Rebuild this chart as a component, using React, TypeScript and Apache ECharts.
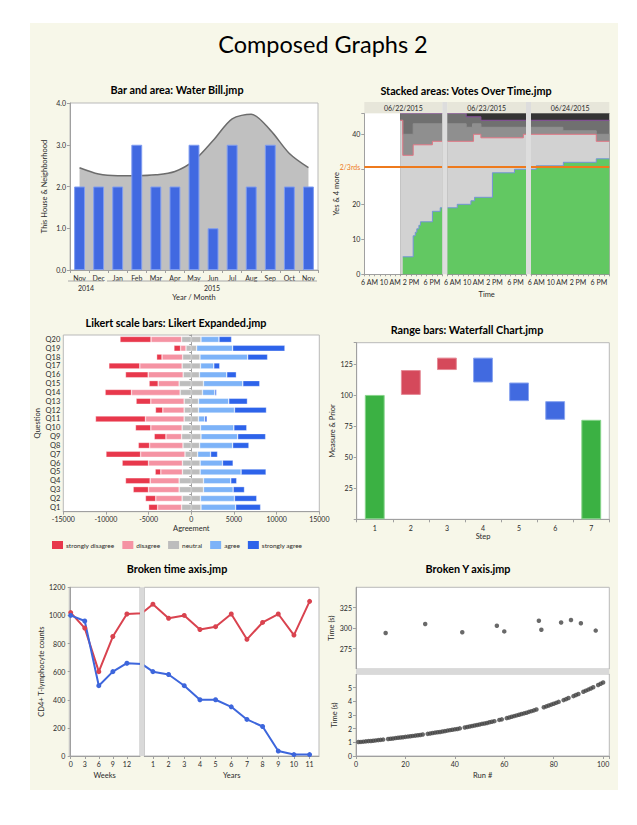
import React, { useEffect, useRef } from 'react';
import * as echarts from 'echarts';

const FONT = 'Lato, "Liberation Sans", sans-serif';
const TXT = '#2a2a2a';
const AXIS = '#a0a0a0';
const BORDER = '#b9b9b9';

// ---------- Bar and area: Water Bill.jmp ----------
const billPeriods = ['2014-11', '2014-12', '2015-01', '2015-02', '2015-03', '2015-04', '2015-05', '2015-06', '2015-07', '2015-08', '2015-09', '2015-10', '2015-11'];
const monthNames = ['Jan', 'Feb', 'Mar', 'Apr', 'May', 'Jun', 'Jul', 'Aug', 'Sep', 'Oct', 'Nov', 'Dec'];
const houseBill = [2, 2, 2, 3, 2, 2, 3, 1, 3, 2, 3, 2, 2];
const neighborhoodBill = [2.45, 2.3, 2.26, 2.26, 2.28, 2.36, 2.62, 3.1, 3.62, 3.73, 3.35, 2.79, 2.45];
const billYearLabels = ['2014', '2015'];

// ---------- Stacked areas: Votes Over Time.jmp ----------
const dayLabels = ['06/22/2015', '06/23/2015', '06/24/2015'];
const hourTicks = [6, 10, 14, 18];
const hourTickLabels = ['6 AM', '10 AM', '2 PM', '6 PM'];
const voteTotal = 46;
const day1Total = [[11.9, 46], [20, 46]];
const day1Layer4 = [[11.9, 46], [20, 46]];
const day1Layer3 = [[11.9, 44], [12.4, 40], [14.4, 43], [20, 43]];
const day1Others = [[11.9, 44], [12.4, 34], [14.4, 37], [18.1, 38], [20, 38]];
const day1Yes = [[12.4, 5], [14.4, 11], [14.8, 12], [15.1, 13], [15.5, 14], [15.8, 15], [18.1, 18], [19.6, 19], [20, 19]];
const day2Total = [[5, 46], [20, 46]];
const day2Layer4 = [[5, 46], [8.6, 45], [11.4, 44], [20, 44]];
const day2Layer3 = [[5, 43], [8.6, 42], [9.8, 43], [11.4, 42], [20, 42]];
const day2Others = [[5, 38], [10, 40], [11.4, 39], [19.5, 40], [20, 40]];
const day2Yes = [[5, 19], [6.9, 20], [9.5, 21], [10.2, 22], [13.6, 29], [17.8, 30], [20, 30]];
const day3Total = [[5, 46], [20, 46]];
const day3Layer4 = [[5, 44], [20, 44]];
const day3Layer3 = [[5, 42], [11.1, 41], [17.5, 40], [20, 40]];
const day3Others = [[5, 40], [17.5, 38], [20, 38]];
const day3Yes = [[5, 30], [6, 31], [11.2, 32], [17.5, 33], [20, 33]];

// ---------- Likert scale bars ----------
const questions = ['Q1', 'Q2', 'Q3', 'Q4', 'Q5', 'Q6', 'Q7', 'Q8', 'Q9', 'Q10', 'Q11', 'Q12', 'Q13', 'Q14', 'Q15', 'Q16', 'Q17', 'Q18', 'Q19', 'Q20'];
const likertLevels = ['strongly disagree', 'disagree', 'neutral', 'agree', 'strongly agree'];
const stronglyDisagree = [1060, 1210, 1800, 2890, 660, 3090, 4060, 1330, 1370, 1800, 5860, 860, 1720, 3090, 1060, 2660, 3630, 630, 780, 3630];
const disagree = [2810, 3090, 3590, 3400, 2540, 3980, 5200, 3910, 1840, 3670, 4530, 2500, 3910, 5700, 2460, 4100, 4960, 2420, 630, 3590];
const neutral = [2270, 2150, 2850, 2850, 2070, 2070, 1480, 1950, 2270, 2150, 1680, 1680, 1680, 2620, 2850, 1910, 2150, 2030, 1250, 2270];
const agree = [4060, 3980, 3480, 3200, 4800, 2620, 1520, 3870, 4300, 3910, 740, 4220, 3550, 1450, 4610, 3200, 1560, 5590, 4220, 2110];
const stronglyAgree = [2930, 2620, 1330, 700, 2930, 1250, 820, 1910, 3280, 1520, 270, 3750, 2190, 200, 1990, 1130, 700, 2340, 6130, 1480];

// ---------- Range bars: Waterfall Chart.jmp ----------
const steps = ['1', '2', '3', '4', '5', '6', '7'];
const stepPrior = [0, 100, 120, 130, 110, 95, 0];
const stepMeasure = [100, 120, 130, 110, 95, 80, 80];

// ---------- Broken time axis.jmp ----------
const weeks = [0, 3, 6, 9, 12];
const weeksGroupA = [1020, 910, 600, 850, 1010];
const weeksGroupB = [1000, 960, 500, 600, 660];
const years = [1, 2, 3, 4, 5, 6, 7, 8, 9, 10, 11];
const yearsGroupA = [1080, 980, 1000, 900, 920, 1010, 830, 950, 1010, 860, 1100];
const yearsGroupB = [600, 580, 500, 400, 400, 350, 260, 210, 35, 10, 10];

// ---------- Broken Y axis.jmp ----------
const runTimes = [
  1.02, 1.03, 1.05, 1.07, 1.09, 1.1, 1.12, 1.14, 1.16, 1.18,
  1.2, 294, 1.24, 1.26, 1.28, 1.31, 1.33, 1.35, 1.37, 1.4,
  1.42, 1.44, 1.47, 1.49, 1.52, 1.54, 1.57, 305, 1.62, 1.65,
  1.68, 1.71, 1.74, 1.76, 1.79, 1.82, 1.86, 1.89, 1.92, 1.95,
  1.98, 2.02, 295, 2.09, 2.12, 2.16, 2.19, 2.23, 2.27, 2.31,
  2.35, 2.38, 2.42, 2.47, 2.51, 2.55, 303, 2.64, 2.68, 296,
  2.77, 2.82, 2.87, 2.92, 2.97, 3.02, 3.07, 3.12, 3.17, 3.23,
  3.28, 3.34, 3.4, 309, 298, 3.57, 3.63, 3.7, 3.76, 3.82,
  3.89, 3.96, 307, 4.09, 4.16, 4.24, 310, 4.38, 4.46, 4.54,
  306, 4.7, 4.78, 4.86, 4.94, 5.03, 297, 5.2, 5.29, 5.38,
];

function buildOption() {
  const plain = (v: number) => String(v);
  const labelBase = { fontSize: 7, color: TXT, fontFamily: FONT, margin: 4 };
  const nameStyle = { fontSize: 7.5, color: TXT, fontFamily: FONT };
  const axis = (o: any, label: any = {}, tick: any = {}) => ({
    axisLine: { show: true, lineStyle: { color: AXIS, width: 1 } },
    axisTick: { show: true, length: 3, lineStyle: { color: AXIS }, ...tick },
    splitLine: { show: false },
    nameTextStyle: nameStyle,
    nameLocation: 'middle',
    ...o,
    axisLabel: { ...labelBase, ...label },
  });
  const grid = (left: number, top: number, width: number, height: number, border = true) => ({
    left, top, width, height, show: true, backgroundColor: '#ffffff',
    borderColor: border ? BORDER : 'transparent', borderWidth: border ? 1 : 0,
    containLabel: false, outerBoundsMode: 'none',
  });

  const grids: any[] = [];
  const xAxes: any[] = [];
  const yAxes: any[] = [];
  const series: any[] = [];
  const graphics: any[] = [];

  const text = (x: number, y: number, t: string, font: string, fill = '#000', align = 'center') => ({
    type: 'text', x, y, z: 100,
    style: { text: t, font, fill, textAlign: align, textVerticalAlign: 'middle', align, verticalAlign: 'middle' },
  });
  const rect = (x: number, y: number, w: number, h: number, fill: string) => ({
    type: 'rect', z: 90, shape: { x, y, width: w, height: h }, style: { fill },
  });
  const line = (x1: number, y1: number, x2: number, y2: number, stroke: string) => ({
    type: 'line', z: 90, shape: { x1, y1, x2, y2 }, style: { stroke, lineWidth: 1 },
  });

  // Titles
  graphics.push(text(323, 44, 'Composed Graphs 2', '23.5px Lato'));
  const TF = 'bold 10.8px Lato';
  graphics.push(text(177, 89, 'Bar and area: Water Bill.jmp', TF));
  graphics.push(text(466, 90, 'Stacked areas: Votes Over Time.jmp', TF));
  graphics.push(text(176, 322, 'Likert scale bars: Likert Expanded.jmp', TF));
  graphics.push(text(467, 329, 'Range bars: Waterfall Chart.jmp', TF));
  graphics.push(text(177, 568, 'Broken time axis.jmp', TF));
  graphics.push(text(468, 568, 'Broken Y axis.jmp', TF));

  // ---- Panel 1: bar & area ----
  grids.push(grid(70, 103, 248, 167));
  xAxes.push(axis({
    type: 'category', gridIndex: 0, data: billPeriods, name: 'Year / Month', nameGap: 23,
  }, { interval: 0, formatter: (p: string) => monthNames[parseInt(p.slice(5), 10) - 1] }));
  yAxes.push(axis({
    type: 'value', gridIndex: 0, min: 0, max: 4, interval: 1, name: 'This House & Neighborhood', nameGap: 22,
  }, { formatter: (v: number) => v.toFixed(1) }));
  series.push({
    type: 'line', xAxisIndex: 0, yAxisIndex: 0, data: neighborhoodBill, smooth: 0.3, showSymbol: false,
    lineStyle: { color: '#6c6c6c', width: 1.5 }, areaStyle: { color: '#c0c0c0', opacity: 1 }, z: 1,
  });
  series.push({
    type: 'bar', xAxisIndex: 0, yAxisIndex: 0, data: houseBill, barWidth: '57%',
    itemStyle: { color: '#4169e1', borderColor: '#7f9cf0', borderWidth: 1 }, z: 3,
  });
  graphics.push(line(68, 281, 104, 281, '#a8a8a8'));
  graphics.push(line(107, 281, 317, 281, '#a8a8a8'));
  graphics.push(text(86, 287.5, billYearLabels[0], '7px Lato', TXT));
  graphics.push(text(212, 287.5, billYearLabels[1], '7px Lato', TXT));

  // ---- Panel 2: stacked areas facets ----
  const facetLefts = [364.3, 447.3, 531];
  const facetWidths = [78, 78.7, 78.3];
  const days = [
    [day1Total, day1Layer4, day1Layer3, day1Others, day1Yes],
    [day2Total, day2Layer4, day2Layer3, day2Others, day2Yes],
    [day3Total, day3Layer4, day3Layer3, day3Others, day3Yes],
  ];
  const layerStyles = [
    { fill: '#343434', line: '#343434' },
    { fill: '#707070', line: '#8a4f9e' },
    { fill: '#8f8f8f', line: '#8f8f8f' },
    { fill: '#d2d2d2', line: '#e07684' },
    { fill: '#62c862', line: '#7394d8' },
  ];
  for (let i = 0; i < 3; i++) {
    const gi = grids.length;
    grids.push(grid(facetLefts[i], 113.3, facetWidths[i], 161, false));
    xAxes.push(axis({
      type: 'value', gridIndex: gi, min: 5, max: 20, interval: 1,
      name: i === 1 ? 'Time' : '', nameGap: 16,
    }, {
      formatter: (v: number) => { const k = hourTicks.indexOf(v); return k >= 0 ? hourTickLabels[k] : ''; },
    }, { length: 2 }));
    yAxes.push(axis({
      type: 'value', gridIndex: gi, min: 0, max: voteTotal, interval: 10,
      name: i === 0 ? 'Yes & 4 more' : '', nameGap: 24,
      axisLine: { show: i === 0, lineStyle: { color: AXIS } },
    }, {
      show: i === 0,
      formatter: (v: number) => (v % 10 === 0 && v !== 30 ? String(v) : ''),
    }, { show: i === 0 }));
    days[i].forEach((d, k) => {
      series.push({
        type: 'line', xAxisIndex: gi, yAxisIndex: gi, data: d, step: 'end', showSymbol: false,
        lineStyle: { color: layerStyles[k].line, width: 1 },
        areaStyle: { color: layerStyles[k].fill, opacity: 1 },
        markLine: k === 4 ? {
          silent: true, symbol: ['none', 'none'],
          data: [{ yAxis: (voteTotal * 2) / 3 }],
          lineStyle: { color: '#ee7a1c', width: 2, type: 'solid' },
          label: i === 0
            ? { show: true, position: 'start', formatter: '2/3rds', color: '#ee7a1c', fontSize: 7, fontFamily: FONT, distance: 4 }
            : { show: false },
        } : undefined,
      });
    });
    graphics.push(rect(facetLefts[i], 102, facetWidths[i], 11.3, '#e7e6da'));
    graphics.push(text(facetLefts[i] + facetWidths[i] / 2, 107.8, dayLabels[i], '7px Lato', TXT));
  }
  graphics.push(rect(442.3, 102, 5, 172.3, '#dddddd'));
  graphics.push(rect(526, 102, 5, 172.3, '#dddddd'));

  // ---- Panel 3: Likert ----
  const lg = grids.length;
  grids.push(grid(63.3, 335, 256, 176.7));
  xAxes.push(axis({
    type: 'value', gridIndex: lg, min: -15000, max: 15000, interval: 5000, name: 'Agreement', nameGap: 13,
  }, { formatter: plain }));
  yAxes.push(axis({
    type: 'category', gridIndex: lg, data: questions, name: 'Question', nameGap: 16,
  }, { interval: 0, fontSize: 7.5, margin: 3 }, { length: 2 }));
  const likertColors = ['#e8384c', '#f593a3', '#bdbdbd', '#7db3f8', '#2d63ea'];
  const likertSeries = [
    { name: likertLevels[2], values: neutral.map((v) => -v / 2), color: likertColors[2] },
    { name: likertLevels[1], values: disagree.map((v) => -v), color: likertColors[1] },
    { name: likertLevels[0], values: stronglyDisagree.map((v) => -v), color: likertColors[0] },
    { name: likertLevels[2], values: neutral.map((v) => v / 2), color: likertColors[2] },
    { name: likertLevels[3], values: agree, color: likertColors[3] },
    { name: likertLevels[4], values: stronglyAgree, color: likertColors[4] },
  ];
  likertSeries.forEach((s) => {
    series.push({
      type: 'bar', name: s.name, xAxisIndex: lg, yAxisIndex: lg, stack: 'likert', data: s.values,
      barCategoryGap: '32%',
      itemStyle: { color: s.color, borderColor: 'rgba(255,255,255,0.55)', borderWidth: 0.6 },
    });
  });

  // ---- Panel 4: Waterfall ----
  const wg = grids.length;
  grids.push(grid(356.7, 342.7, 252.6, 176.6));
  xAxes.push(axis({
    type: 'category', gridIndex: wg, data: steps, name: 'Step', nameGap: 12,
  }, { margin: 5 }));
  yAxes.push(axis({
    type: 'value', gridIndex: wg, min: 0, max: 142, interval: 25, name: 'Measure & Prior', nameGap: 19,
  }, { formatter: (v: number) => (v > 0 && v % 25 === 0 ? String(v) : '') }));
  const lows = stepPrior.map((p, i) => Math.min(p, stepMeasure[i]));
  const spans = stepPrior.map((p, i) => Math.abs(stepMeasure[i] - p));
  const stepColor = (i: number) => (stepPrior[i] === 0 ? '#3bb143' : stepMeasure[i] > stepPrior[i] ? '#d5495b' : '#416ae0');
  const stepEdge = (i: number) => (stepPrior[i] === 0 ? '#86d48a' : stepMeasure[i] > stepPrior[i] ? '#e58a96' : '#8aa5f0');
  series.push({
    type: 'bar', xAxisIndex: wg, yAxisIndex: wg, stack: 'wf', data: lows, barWidth: '55%',
    itemStyle: { color: 'transparent' }, silent: true,
  });
  series.push({
    type: 'bar', xAxisIndex: wg, yAxisIndex: wg, stack: 'wf', barWidth: '55%',
    data: spans.map((v, i) => ({ value: v, itemStyle: { color: stepColor(i), borderColor: stepEdge(i), borderWidth: 1 } })),
  });

  // ---- Panel 5: Broken time axis ----
  const g5a = grids.length;
  grids.push(grid(69.3, 587.3, 70.7, 168.7));
  const g5b = grids.length;
  grids.push(grid(144.3, 587.3, 174.7, 168.7));
  xAxes.push(axis({
    type: 'value', gridIndex: g5a, min: -0.3, max: 14.8, name: 'Weeks', nameGap: 15,
  }, { customValues: weeks, formatter: plain }, { customValues: weeks }));
  xAxes.push(axis({
    type: 'value', gridIndex: g5b, min: 0.45, max: 11.6, name: 'Years', nameGap: 15,
  }, { customValues: years, formatter: plain }, { customValues: years }));
  yAxes.push(axis({
    type: 'value', gridIndex: g5a, min: 0, max: 1200, interval: 200, name: 'CD4+ T-lymphocyte counts', nameGap: 23,
  }, { formatter: plain }));
  yAxes.push(axis({
    type: 'value', gridIndex: g5b, min: 0, max: 1200, interval: 200,
    axisLine: { show: false },
  }, { show: false }, { show: false }));
  const weeksPerYear = 52;
  const groups = [
    { w: weeksGroupA, y: yearsGroupA, color: '#d9434f', symbol: 'circle' },
    { w: weeksGroupB, y: yearsGroupB, color: '#3d66dc', symbol: 'circle' },
  ];
  groups.forEach((g) => {
    const wData: any[] = weeks.map((wk, i) => [wk, g.w[i]]);
    wData.push([years[0] * weeksPerYear, g.y[0]]);
    const yData: any[] = [[weeks[weeks.length - 1] / weeksPerYear, g.w[g.w.length - 1]]];
    years.forEach((yr, i) => yData.push([yr, g.y[i]]));
    [[g5a, wData], [g5b, yData]].forEach(([gi, d]: any) => {
      series.push({
        type: 'line', xAxisIndex: gi, yAxisIndex: gi, data: d, clip: true,
        symbol: g.symbol, symbolSize: 5, showAllSymbol: true,
        lineStyle: { color: g.color, width: 2 }, itemStyle: { color: g.color },
      });
    });
  });
  graphics.push(rect(140, 587.3, 4.3, 168.7, '#d9d9d9'));

  // ---- Panel 6: Broken Y axis ----
  const g6a = grids.length;
  grids.push(grid(356, 587.3, 253.3, 81.7));
  const g6b = grids.length;
  grids.push(grid(356, 674, 253.3, 82));
  xAxes.push(axis({ type: 'value', gridIndex: g6a, min: 0, max: 102.5, interval: 20, show: false }));
  xAxes.push(axis({
    type: 'value', gridIndex: g6b, min: 0, max: 102.5, interval: 20, name: 'Run #', nameGap: 15,
  }, { formatter: (v: number) => (v % 20 === 0 ? String(v) : '') }));
  yAxes.push(axis({
    type: 'value', gridIndex: g6a, min: 250, max: 350, interval: 25, name: 'Time (s)', nameGap: 18,
  }, { showMinLabel: false, showMaxLabel: false, formatter: plain }));
  yAxes.push(axis({
    type: 'value', gridIndex: g6b, min: 0, max: 6, interval: 1, name: 'Time (s)', nameGap: 18,
  }, { showMaxLabel: false, formatter: plain }));
  const slowRuns: any[] = [];
  const fastRuns: any[] = [];
  runTimes.forEach((t, i) => (t > 100 ? slowRuns : fastRuns).push([i + 1, t]));
  series.push({
    type: 'scatter', xAxisIndex: g6a, yAxisIndex: g6a, data: slowRuns, symbolSize: 4.5,
    itemStyle: { color: '#444444' },
  });
  series.push({
    type: 'scatter', xAxisIndex: g6b, yAxisIndex: g6b, data: fastRuns, symbolSize: 4.5,
    itemStyle: { color: '#444444' },
  });
  graphics.push(rect(356, 669, 253.3, 5, '#d9d9d9'));

  return {
    animation: false,
    textStyle: { fontFamily: FONT },
    legend: {
      data: likertLevels, left: 47, top: 536, itemWidth: 11, itemHeight: 8, itemGap: 8,
      icon: 'rect', selectedMode: false,
      itemStyle: { borderWidth: 0 },
      textStyle: { fontSize: 6.5, color: TXT, fontFamily: FONT, padding: [0, 0, 0, -2] },
    },
    grid: grids,
    xAxis: xAxes,
    yAxis: yAxes,
    series,
    graphic: { elements: graphics },
  };
}

export default function App() {
  const ref = useRef<HTMLDivElement>(null);
  useEffect(() => {
    const chart = echarts.init(ref.current as HTMLDivElement, null, { renderer: 'svg' });
    chart.setOption(buildOption() as any);
    return () => chart.dispose();
  }, []);
  return (
    <div style={{ position: 'fixed', left: 0, top: 0, width: 637, height: 825, background: '#ffffff' }}>
      <div style={{ position: 'absolute', left: 30, top: 23, width: 588, height: 767, background: '#f7f7e9' }} />
      <div ref={ref} style={{ position: 'absolute', left: 0, top: 0, width: 637, height: 825 }} />
    </div>
  );
}
